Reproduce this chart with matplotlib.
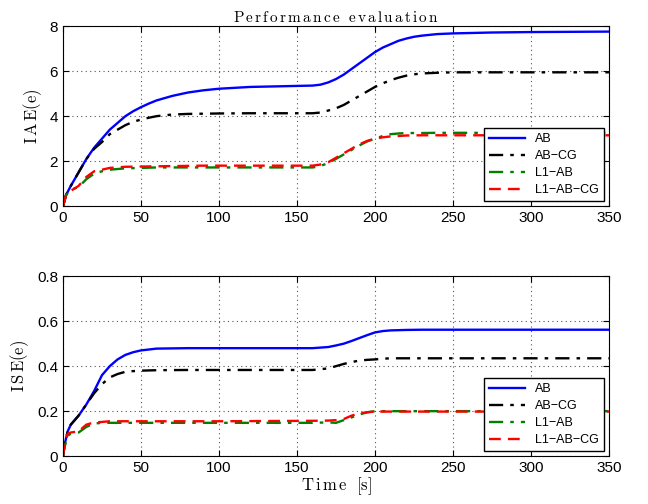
import numpy as np
import matplotlib.pyplot as plt

plt.rcParams['mathtext.fontset'] = 'cm'
plt.rcParams['font.family'] = ['Liberation Sans', 'DejaVu Sans']

# IAE(e) readings
t_iae = [0, 2, 5, 10, 15, 20, 25, 30, 40, 45, 50, 55, 60, 65, 70, 80, 90, 100, 120, 140, 160, 165,
         170, 175, 180, 185, 190, 195, 200, 205, 210, 215, 220, 225, 230, 240, 250, 275, 300, 350]
iae_ab = [0, 0.5, 0.9, 1.5, 2.1, 2.6, 3.0, 3.4, 4.0, 4.22, 4.4, 4.56, 4.7, 4.8, 4.9, 5.05, 5.15, 5.22,
          5.3, 5.33, 5.36, 5.4, 5.5, 5.65, 5.85, 6.1, 6.35, 6.6, 6.85, 7.05, 7.2, 7.35, 7.45, 7.53,
          7.58, 7.65, 7.68, 7.72, 7.74, 7.76]
iae_abcg = [0, 0.5, 0.9, 1.5, 2.1, 2.55, 2.85, 3.2, 3.6, 3.75, 3.85, 3.93, 4.0, 4.04, 4.07, 4.1, 4.11,
            4.12, 4.13, 4.13, 4.13, 4.16, 4.25, 4.35, 4.5, 4.7, 4.9, 5.1, 5.3, 5.46, 5.6, 5.71, 5.8,
            5.86, 5.9, 5.93, 5.95, 5.95, 5.95, 5.95]
iae_l1ab = [0, 0.5, 0.72, 0.85, 1.2, 1.45, 1.55, 1.62, 1.68, 1.69, 1.7, 1.71, 1.72, 1.72, 1.72, 1.72,
            1.72, 1.72, 1.72, 1.72, 1.72, 1.78, 1.92, 2.1, 2.3, 2.5, 2.7, 2.88, 3.0, 3.12, 3.2, 3.23,
            3.25, 3.25, 3.25, 3.26, 3.26, 3.26, 3.26, 3.26]
iae_l1abcg = [0, 0.5, 0.68, 0.9, 1.3, 1.55, 1.62, 1.7, 1.75, 1.755, 1.76, 1.765, 1.77, 1.775, 1.78,
              1.79, 1.8, 1.8, 1.8, 1.8, 1.8, 1.85, 1.95, 2.15, 2.35, 2.55, 2.75, 2.9, 3.0, 3.06, 3.1,
              3.12, 3.14, 3.145, 3.15, 3.15, 3.15, 3.15, 3.15, 3.15]

# ISE(e) readings
t_ise = [0, 1, 3, 5, 10, 15, 20, 25, 30, 35, 40, 45, 50, 60, 80, 100, 160, 170, 175, 180, 185,
         190, 195, 200, 205, 210, 220, 230, 350]
ise_ab = [0, 0.05, 0.11, 0.14, 0.18, 0.23, 0.29, 0.36, 0.40, 0.43, 0.45, 0.462, 0.47, 0.478, 0.48,
          0.48, 0.48, 0.485, 0.492, 0.5, 0.512, 0.525, 0.538, 0.55, 0.556, 0.559, 0.561, 0.562, 0.562]
ise_abcg = [0, 0.05, 0.11, 0.14, 0.18, 0.23, 0.28, 0.32, 0.35, 0.365, 0.375, 0.378, 0.38, 0.382,
            0.383, 0.383, 0.383, 0.39, 0.4, 0.41, 0.418, 0.425, 0.428, 0.43, 0.433, 0.435, 0.435,
            0.435, 0.435]
ise_l1ab = [0, 0.04, 0.09, 0.1, 0.105, 0.13, 0.145, 0.148, 0.148, 0.148, 0.148, 0.148, 0.148, 0.148,
            0.148, 0.148, 0.148, 0.15, 0.148, 0.16, 0.172, 0.185, 0.195, 0.2, 0.2, 0.2, 0.2, 0.2, 0.2]
ise_l1abcg = [0, 0.05, 0.1, 0.105, 0.11, 0.14, 0.15, 0.152, 0.155, 0.155, 0.155, 0.155, 0.155, 0.155,
              0.155, 0.155, 0.157, 0.158, 0.16, 0.165, 0.18, 0.19, 0.195, 0.198, 0.198, 0.198,
              0.198, 0.198, 0.198]

labels = ['AB', 'AB\u2212CG', 'L1\u2212AB', 'L1\u2212AB\u2212CG']
styles = [dict(color='#0000ff', ls='-'),
          dict(color='black', ls=(0, (6, 3, 1.5, 3))),
          dict(color='#008000', ls=(0, (6, 3, 1.5, 3))),
          dict(color='#ff0000', ls=(0, (5, 3)))]

fig = plt.figure(figsize=(6.48, 5.04), dpi=100)
ax1 = fig.add_axes([0.0972, 0.591, 0.8426, 0.357])
ax2 = fig.add_axes([0.0972, 0.095, 0.8426, 0.357])


def setup(ax, t, series, ylim, yticks, ylabel):
    for y, lab, st in zip(series, labels, styles):
        ax.plot(t, y, lw=1.7, label=lab, **st)
    ax.set_xlim(0, 350)
    ax.set_ylim(*ylim)
    ax.set_xticks(range(0, 351, 50))
    ax.set_yticks(yticks)
    ax.grid(True, ls=(0, (1, 3)), color='#555555', lw=0.8)
    ax.tick_params(direction='in', top=True, right=True, labelsize=11, length=4)
    ax.set_ylabel(ylabel, fontsize=12)
    leg = ax.legend(loc='lower right', fontsize=9, fancybox=False, framealpha=1,
                    edgecolor='black', handlelength=2.9, borderaxespad=0.4,
                    labelspacing=0.4)
    leg.get_frame().set_linewidth(1.0)


setup(ax1, t_iae, [iae_ab, iae_abcg, iae_l1ab, iae_l1abcg], (0, 8), [0, 2, 4, 6, 8],
      r'$\mathrm{I\,A\,E(e)}$')
ax1.set_title(r'$\mathrm{P\,e\,r\,f\,o\,r\,m\,a\,n\,c\,e\ \ e\,v\,a\,l\,u\,a\,t\,i\,o\,n}$', fontsize=11, pad=3)

setup(ax2, t_ise, [ise_ab, ise_abcg, ise_l1ab, ise_l1abcg], (0, 0.8), [0, 0.2, 0.4, 0.6, 0.8],
      r'$\mathrm{I\,S\,E(e)}$')
ax2.set_yticklabels(['0', '0.2', '0.4', '0.6', '0.8'])
ax2.set_xlabel(r'$\mathrm{T\,i\,m\,e\ \ [s]}$', fontsize=12, labelpad=0)

fig.savefig('out.png', dpi=100)
